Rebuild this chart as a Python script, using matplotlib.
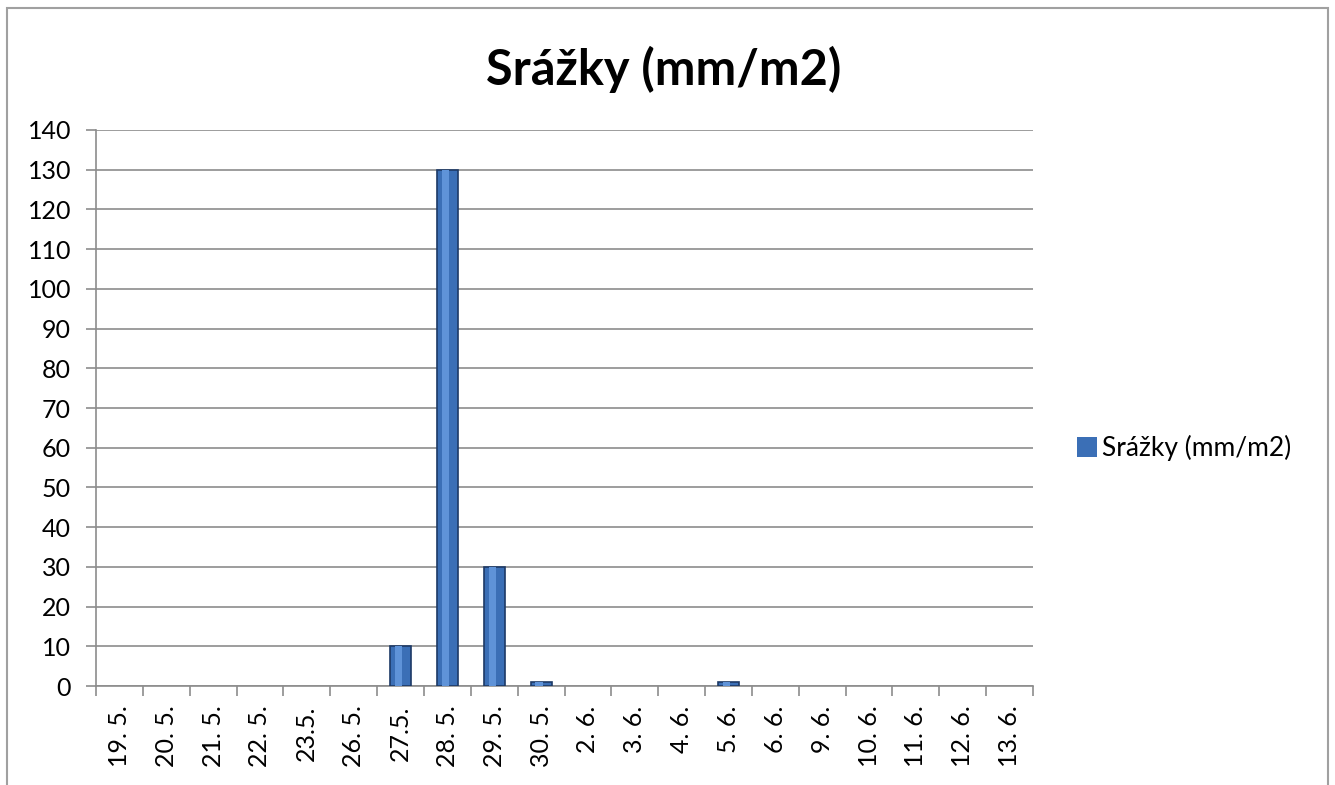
import matplotlib.pyplot as plt
import numpy as np
from matplotlib.patches import Rectangle

plt.rcParams['font.family'] = ['Lato', 'DejaVu Sans']

dates = ['19. 5.', '20. 5.', '21. 5.', '22. 5.', '23.5.', '26. 5.', '27.5.', '28. 5.',
         '29. 5.', '30. 5.', '2. 6.', '3. 6.', '4. 6.', '5. 6.', '6. 6.', '9. 6.',
         '10. 6.', '11. 6.', '12. 6.', '13. 6.']
srazky = [0, 0, 0, 0, 0, 0, 10, 130, 30, 1, 0, 0, 0, 1, 0, 0, 0, 0, 0, 0]
series_name = 'Srážky (mm/m2)'

fig = plt.figure(figsize=(13.35, 7.85), dpi=100)
ax = fig.add_axes([0.0719, 0.1261, 0.7019, 0.7083])

x = np.arange(len(dates))
vals = np.array(srazky, dtype=float)
edges = ['#1d3a66' if v > 0 else 'none' for v in vals]
bars = ax.bar(x, vals, width=0.45, color='#3b6fb6', edgecolor=edges, linewidth=1.2,
              zorder=3, label=series_name)
# lighter strip for the cylinder look
ax.bar(x - 0.04, vals, width=0.16, color='#5f93d8', linewidth=0, zorder=4)

ax.set_xlim(-0.5, len(dates) - 0.5)
ax.set_ylim(0, 140)
ax.set_yticks(np.arange(0, 141, 10))
ax.yaxis.grid(True, color='#8c8c8c', linewidth=1.2, zorder=0)
ax.set_axisbelow(True)

ax.set_xticks(x)
ax.set_xticklabels(dates, rotation=90, fontsize=18)
ax.tick_params(axis='x', length=0, pad=14)
ax.set_xticks(np.arange(-0.5, len(dates)), minor=True)
ax.tick_params(axis='x', which='minor', length=7, color='#8c8c8c', width=1.2)
ax.tick_params(axis='y', labelsize=18, length=7, color='#8c8c8c', width=1.2, pad=11)

for s in ['top', 'right']:
    ax.spines[s].set_visible(False)
for s in ['left', 'bottom']:
    ax.spines[s].set_color('#8c8c8c')
    ax.spines[s].set_linewidth(1.2)

fig.text(0.497, 0.912, series_name, fontsize=35, fontweight='bold', ha='center', va='center')

ax.legend(handles=[bars], loc='center left', bbox_to_anchor=(1.047, 0.428), frameon=False,
          fontsize=19, handlelength=0.75, handleheight=0.75, handletextpad=0.2,
          borderpad=0, borderaxespad=0)

fig.patches.append(Rectangle((0.0055, -0.05), 0.989, 1.04, transform=fig.transFigure,
                             fill=False, edgecolor='#a0a0a0', linewidth=1.5))

fig.savefig('out.png', dpi=100)
